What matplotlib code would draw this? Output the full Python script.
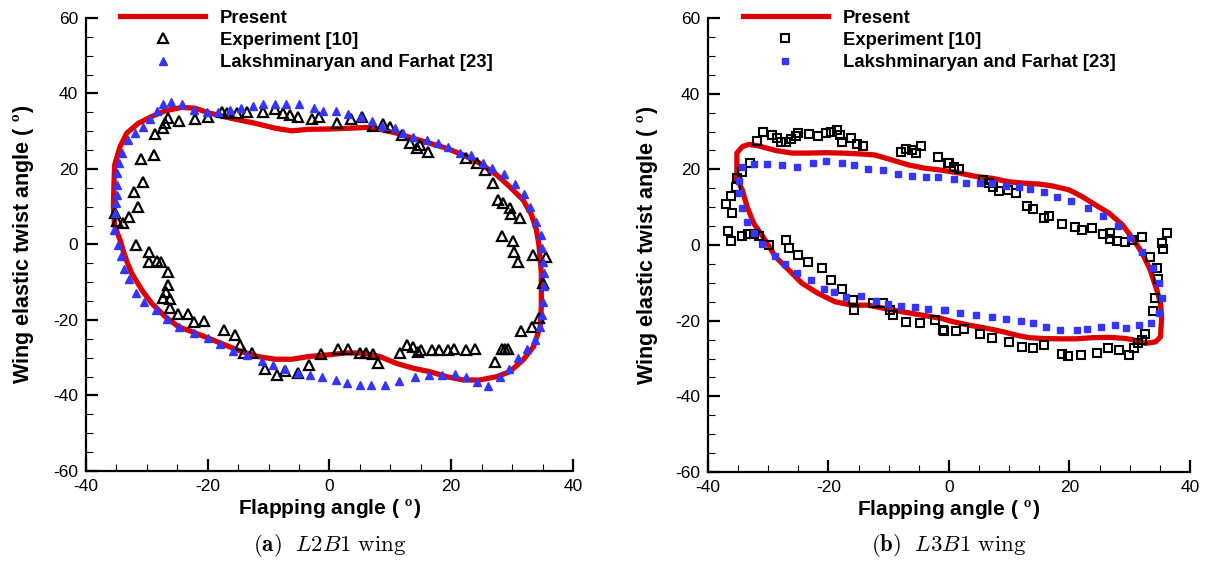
import numpy as np
import matplotlib
matplotlib.use('Agg')
import matplotlib.pyplot as plt
from matplotlib.ticker import MultipleLocator

# ---- (a) L2B1 wing ----
a_present_x = [-33.6, -34.4, -35.3, -35.5, -35.4, -35.3, -34.4, -33.3, -31.4, -29.2, -27.0, -24.3, -22.1,
               -19.9, -17.7, -15.5, -12.2, -8.9, -6.2, -3.5, 0.1, 3.4, 6.1, 8.3, 11.0, 13.8, 16.5, 19.2,
               22.0, 24.7, 27.5, 29.6, 31.8, 33.2, 34.0, 34.4, 34.8, 34.8, 34.6, 33.5, 31.8, 29.6, 27.5,
               24.7, 22.0, 19.2, 16.5, 13.8, 11.0, 8.3, 5.6, 2.8, 0.1, -3.5, -6.2, -8.9, -11.7, -14.4,
               -17.2, -19.9, -22.6, -24.8, -27.0, -29.2, -30.8, -32.5, -33.6]
a_present_y = [-3.2, 1.2, 5.0, 10.0, 16.0, 21.0, 25.9, 29.5, 32.1, 33.9, 35.4, 36.3, 36.1,
               34.9, 34.0, 33.2, 32.1, 30.8, 30.1, 30.5, 30.6, 30.8, 31.0, 30.5, 29.5, 28.1, 26.8, 25.5,
               23.7, 21.5, 18.4, 15.3, 11.8, 7.8, 3.8, 0.0, -7.6, -16.5, -21.8, -27.1, -30.6, -33.7, -35.0,
               -35.9, -35.9, -35.0, -33.7, -32.8, -31.5, -29.7, -28.8, -28.7, -29.2, -29.7, -30.4, -30.4,
               -29.7, -28.4, -26.6, -24.8, -23.1, -21.8, -19.1, -15.6, -12.1, -7.6, -3.2]

a_exp_x = [-26.5, -27.0, -27.4, -28.7, -24.8, -22.1, -19.9, -17.7, -16.9, -15.2, -13.6, -10.9, -8.9, -7.6,
           -6.5, -5.1, -2.9, -1.8, 1.2, 3.6, 5.4, 7.2, 8.8, 9.9, 11.9, 13.2, 14.3, 14.9, 16.2, 22.5, 24.2,
           25.5, 26.9, 27.7, 28.5, 29.6, 29.9, 31.3, -31.0, -28.9, -30.7, -32.1, -31.4, -32.9, -33.9, -34.9,
           -35.2, -31.8, -29.6, -29.6, -28.3, -27.7, -26.5, -26.6, -26.8, -27.3, -26.2, -26.2, -24.9, -23.3,
           -22.2, -20.6, -17.3, -15.6, -14.7, -14.0, -12.8, -10.6, -8.6, -7.3, -5.1, -3.3, -1.4, 1.4, 3.0,
           5.0, 6.0, 7.2, 7.9, 11.6, 12.7, 13.8, 14.5, 15.0, 16.9, 18.0, 19.5, 20.5, 22.4, 23.9, 27.2, 28.3,
           28.8, 29.4, 31.4, 33.2, 34.4, 35.1, 35.5, 33.5, 28.4, 30.2, 30.3, 31.0]
a_exp_y = [33.4, 32.1, 30.8, 29.3, 32.8, 33.2, 33.7, 35.2, 34.8, 34.8, 35.2, 35.2, 35.8, 34.8,
           34.3, 33.7, 33.2, 33.7, 32.3, 33.2, 33.7, 31.4, 31.9, 31.0, 29.0, 26.8, 25.5, 26.4, 24.6, 22.8, 21.5,
           19.7, 16.4, 11.8, 10.9, 9.6, 8.1, 6.9, 22.6, 23.6, 16.6, 13.8, 10.0, 7.4, 5.8, 6.3,
           8.3, -0.1, -1.9, -4.6, -4.3, -4.6, -7.2, -10.7, -12.5, -14.3, -14.5, -16.9, -18.4, -18.4,
           -20.5, -20.2, -22.6, -24.0, -26.6, -28.7, -28.7, -33.1, -34.6, -33.5, -34.0, -31.9, -29.1, -27.8, -27.8,
           -28.7, -28.7, -29.0, -31.5, -28.7, -26.6, -27.1, -28.4, -27.9, -27.9, -27.9, -27.9, -27.7, -27.9, -27.7,
           -31.0, -27.8, -27.8, -27.8, -22.9, -21.9, -19.6, -10.3, -3.2, -2.8, 2.3, 1.0, -1.9, -4.6]

a_lf_x = [-35.2, -35.1, -34.9, -34.9, -34.9, -34.5, -34.1, -33.1, -31.9, -30.7, -29.4, -28.4, -27.3, -26.1,
          -24.3, -22.2, -20.2, -18.3, -16.3, -14.5, -12.5, -11.0, -8.9, -7.2, -5.0, -2.5, -1.0, 1.1, 3.1,
          5.2, 7.0, 8.6, 10.8, 12.1, 13.8, 16.0, 17.9, 19.5, 21.4, 23.3, 25.3, 26.7, 28.7, 30.5, 31.9, 33.0,
          34.0, 34.7, 34.9, 35.1, 35.2, 35.2, 35.1, 34.9, 34.6, 33.8, 32.5, 31.0, 29.5, 28.0, 26.1, 24.3,
          22.5, 20.7, 18.5, 16.3, 14.0, 11.4, 9.1, 6.9, 5.0, 2.9, 1.0, -1.3, -3.2, -5.1, -7.3, -9.2, -11.1,
          -13.6, -15.9, -18.0, -20.0, -22.2, -24.7, -26.7, -28.5, -30.5, -31.7, -32.9, -33.7, -34.2, -34.8,
          -35.4]
a_lf_y = [8.3, 10.9, 13.1, 15.8, 18.9, 21.5, 24.2, 27.7, 29.6, 31.0, 33.2, 35.4, 37.1, 37.8,
          37.1, 35.6, 35.2, 35.2, 35.6, 36.1, 36.7, 37.1, 37.1, 37.1, 37.1, 36.2, 35.4, 35.4, 34.6,
          33.7, 32.8, 31.4, 30.8, 29.5, 28.4, 27.7, 26.8, 25.7, 24.3, 23.7, 21.5, 20.2, 18.7, 15.9, 13.4, 9.9,
          6.0, 2.5, -1.0, -4.6, -7.5, -11.0, -15.2, -18.7, -21.9, -25.3, -27.8, -30.1, -33.1, -35.1, -37.5, -36.4,
          -35.1, -34.4, -34.6, -34.6, -35.1, -36.2, -37.2, -37.2, -37.2, -36.8, -35.9, -35.0, -34.7, -34.0, -33.1,
          -31.9, -30.8, -29.3, -28.1, -26.4, -24.8, -23.5, -21.9, -19.8, -17.4, -15.2, -12.8, -9.2, -6.6, -3.0,
          -0.1, 3.8]

# ---- (b) L3B1 wing ----
b_present_x = [-35.2, -35.2, -35.2, -34.3, -33.2, -31.6, -28.8, -26.1, -23.3, -20.5, -17.8, -15.0, -12.3,
               -9.5, -6.8, -4.0, -1.3, 1.8, 4.5, 7.3, 10.0, 12.8, 15.0, 17.2, 19.9, 22.1, 24.3, 26.6, 28.8,
               30.7, 32.1, 33.4, 34.5, 35.1, 35.3, 35.1, 34.3, 32.6, 30.7, 29.3, 26.6, 23.8, 21.0, 18.3,
               15.5, 13.3, 11.1, 8.9, 6.2, 3.4, 0.7, -1.3, -4.6, -7.9, -10.6, -13.4, -16.1, -18.9, -21.7,
               -24.4, -26.6, -28.8, -30.7, -32.4, -33.5, -34.3, -35.2]
b_present_y = [17.5, 19.8, 24.3, 26.0, 26.6, 26.2, 25.0, 24.3, 24.3, 24.4, 24.3, 24.1, 23.8,
               22.5, 21.2, 20.3, 19.8, 19.0, 18.1, 17.6, 16.7, 16.3, 16.1, 15.6, 14.6, 12.8, 10.6, 8.4, 5.3,
               1.3, -2.2, -6.6, -11.9, -15.4, -19.0, -24.3, -25.6, -26.0, -25.1, -24.7, -24.4, -24.5, -24.8, -24.8,
               -24.7, -24.5, -23.8, -22.9, -22.0, -21.2, -20.3, -19.4, -18.5, -17.6, -16.8, -15.9, -15.9, -15.0,
               -12.8, -10.1, -6.6, -3.1, 1.8, 5.7, 10.1, 14.6, 17.5]

b_exp_x = [-30.9, -29.4, -28.5, -27.8, -27.1, -26.2, -25.4, -25.1, -23.2, -21.7, -20.4, -19.5, -18.5, -18.1,
           -17.8, -16.2, -15.3, -14.2, -31.9, -33.1, -34.3, -35.2, -35.4, -36.1, -37.0, -36.0, -36.6, -36.2,
           -34.4, -33.3, -32.4, -31.6, -29.8, -27.0, -26.5, -25.0, -23.4, -21.0, -19.5, -17.7, -15.9, -15.7,
           -12.6, -10.9, -9.8, -9.3, -7.1, -4.8, -2.4, -1.0, -7.9, -7.1, -6.2, -5.4, -4.7, -1.9, -0.2,
           0.0, 0.9, 1.7, 5.6, 6.6, 7.3, 8.3, 9.8, 11.2, 12.9, 13.9, 15.8, 16.6, 18.7, 21.0, 22.1, 23.7, 25.5,
           26.7, 26.8, 27.9, 29.2, 30.3, 32.1, 33.4, 34.5, 34.7, 34.2, 33.8, 35.4, 35.5, 36.2, 32.5, 32.0,
           31.4, 30.7, 29.8, 28.2, 26.4, 24.6, 21.9, 19.8, 18.7, 15.8, 13.9, 12.1, 9.9, 7.2, 5.1, 2.5, 1.1,
           -0.9]
b_exp_y = [30.0, 29.1, 28.2, 27.3, 27.3, 28.0, 28.7, 29.5, 29.4, 28.8, 29.7, 30.0, 30.4, 29.1,
           27.3, 28.2, 26.7, 26.2, 27.6, 21.8, 19.4, 17.6, 15.4, 13.0, 10.8, 8.5, 3.8, 1.1,
           2.4, 2.9, 2.9, 2.4, 0.0, 1.3, -0.9, -2.6, -4.6, -6.0, -9.3, -11.7, -14.6, -17.2,
           -15.4, -15.3, -17.2, -18.5, -20.3, -20.6, -19.8, -22.5, 24.7, 25.3, 25.0, 24.4, 26.2, 23.2, 21.6,
           21.8, 20.7, 20.0, 17.2, 16.3, 15.3, 14.4, 14.6, 13.7, 10.3, 9.6, 7.1, 7.7, 5.6, 4.7, 4.1, 4.4, 2.9,
           3.1, 1.5, 1.1, 0.9, 1.3, 2.0, -3.1, -6.2, -9.1, -14.1, -17.4, 0.4, -1.1, 3.1, -23.5, -25.0,
           -26.0, -27.1, -29.1, -27.8, -27.3, -28.5, -29.1, -29.4, -28.8, -26.5, -27.1, -26.9, -25.7, -24.5, -23.6,
           -22.3, -22.8, -22.7]

b_lf_x = [-34.4, -32.4, -30.2, -27.7, -25.2, -22.5, -20.4, -17.8, -15.7, -13.4, -10.9, -8.4, -6.1, -3.8,
          -1.8, 0.8, 2.9, 5.1, 7.2, 9.5, 11.7, 13.4, 15.7, 18.0, 20.2, 23.1, 25.5, 28.1, 30.1, 32.1, 33.8,
          34.9, 35.4, 34.9, 33.6, 31.5, 29.3, 27.5, 25.2, 22.9, 21.3, 18.4, 16.1, 14.0, 11.9, 9.5, 7.2, 4.5,
          1.9, -0.7, -0.8, -3.5, -5.7, -7.9, -10.1, -12.1, -14.6, -17.1, -19.1, -20.8, -22.9, -25.2, -27.2,
          -28.9, -31.0, -32.4, -33.5, -34.4, -34.9, -34.8]
b_lf_y = [20.7, 21.4, 21.3, 21.1, 20.7, 21.8, 22.3, 21.6, 21.2, 20.1, 19.8, 18.8, 18.3, 18.1,
          18.1, 17.5, 16.5, 16.5, 16.5, 15.6, 15.3, 14.8, 14.1, 12.8, 11.6, 9.7, 7.7, 5.0, 1.8, -1.8, -6.2,
          -10.1, -14.1, -18.1, -20.5, -21.2, -22.0, -21.2, -21.6, -22.2, -22.5, -22.5, -21.6, -20.7, -20.0, -19.6,
          -19.1, -18.5, -17.9, -17.2, -17.2, -16.9, -16.3, -16.1, -15.6, -14.7, -13.5, -13.7, -12.3, -11.6, -9.3,
          -7.3, -5.1, -2.8, 0.2, 3.3, 6.2, 9.7, 13.7, 17.0]

plt.rcParams['font.family'] = ['Liberation Sans', 'DejaVu Sans']
plt.rcParams['mathtext.fontset'] = 'cm'
plt.rcParams['axes.unicode_minus'] = False

fig = plt.figure(figsize=(12.16, 5.65), dpi=100)
ax1 = fig.add_axes([0.0707, 0.1664, 0.4005, 0.8018])
ax2 = fig.add_axes([0.5822, 0.1646, 0.3964, 0.8035])

red = '#dd0000'
blue = '#3535ff'

ax1.plot(a_present_x, a_present_y, '-', color=red, lw=3.8, label='Present', zorder=2)
ax1.plot(a_exp_x, a_exp_y, '^', ms=7, mfc='none', mec='black', mew=1.6, ls='none',
         label='Experiment [10]', zorder=3)
ax1.plot(a_lf_x, a_lf_y, '^', ms=6, color=blue, ls='none',
         label='Lakshminaryan and Farhat [23]', zorder=3)

ax2.plot(b_present_x, b_present_y, '-', color=red, lw=3.8, label='Present', zorder=2)
ax2.plot(b_exp_x, b_exp_y, 's', ms=6, mfc='none', mec='black', mew=1.5, ls='none',
         label='Experiment [10]', zorder=3)
ax2.plot(b_lf_x, b_lf_y, 's', ms=5, color=blue, ls='none',
         label='Lakshminaryan and Farhat [23]', zorder=3)

captions = [r'$\mathbf{(a)}\ \ L2B1\ \mathrm{wing}$', r'$\mathbf{(b)}\ \ L3B1\ \mathrm{wing}$']
ylab_x = [-0.102, -0.099]
leg_x = [0.055, 0.057]
for ax, cap, yx, lx in zip([ax1, ax2], captions, ylab_x, leg_x):
    ax.set_xlim(-40, 40)
    ax.set_ylim(-60, 60)
    ax.xaxis.set_major_locator(MultipleLocator(20))
    ax.xaxis.set_minor_locator(MultipleLocator(5))
    ax.yaxis.set_major_locator(MultipleLocator(20))
    ax.yaxis.set_minor_locator(MultipleLocator(5))
    ax.spines['top'].set_visible(False)
    ax.spines['right'].set_visible(False)
    for s in ['left', 'bottom']:
        ax.spines[s].set_linewidth(1.6)
    ax.tick_params(which='major', direction='in', length=8.6, width=1.6, labelsize=12.5, pad=5.5)
    ax.tick_params(which='minor', direction='in', length=5, width=0.8)
    ax.set_xlabel(r'Flapping angle ( $^{\mathbf{o}}$)', fontsize=15, fontweight='bold')
    ax.set_ylabel(r'Wing elastic twist angle ( $^{\mathbf{o}}$)', fontsize=15.5, fontweight='bold')
    ax.xaxis.set_label_coords(0.5, -0.057)
    ax.yaxis.set_label_coords(yx, 0.5)
    ax.legend(loc='upper left', bbox_to_anchor=(lx, 1.035), frameon=False, handlelength=4.6,
              handletextpad=0.8, labelspacing=0.29, borderaxespad=0,
              prop={'weight': 'bold', 'size': 13.3})
    pos = ax.get_position()
    fig.text(pos.x0 + pos.width / 2, 0.035, cap, ha='center', va='center', fontsize=16.5)

fig.savefig('out.png', dpi=100)
